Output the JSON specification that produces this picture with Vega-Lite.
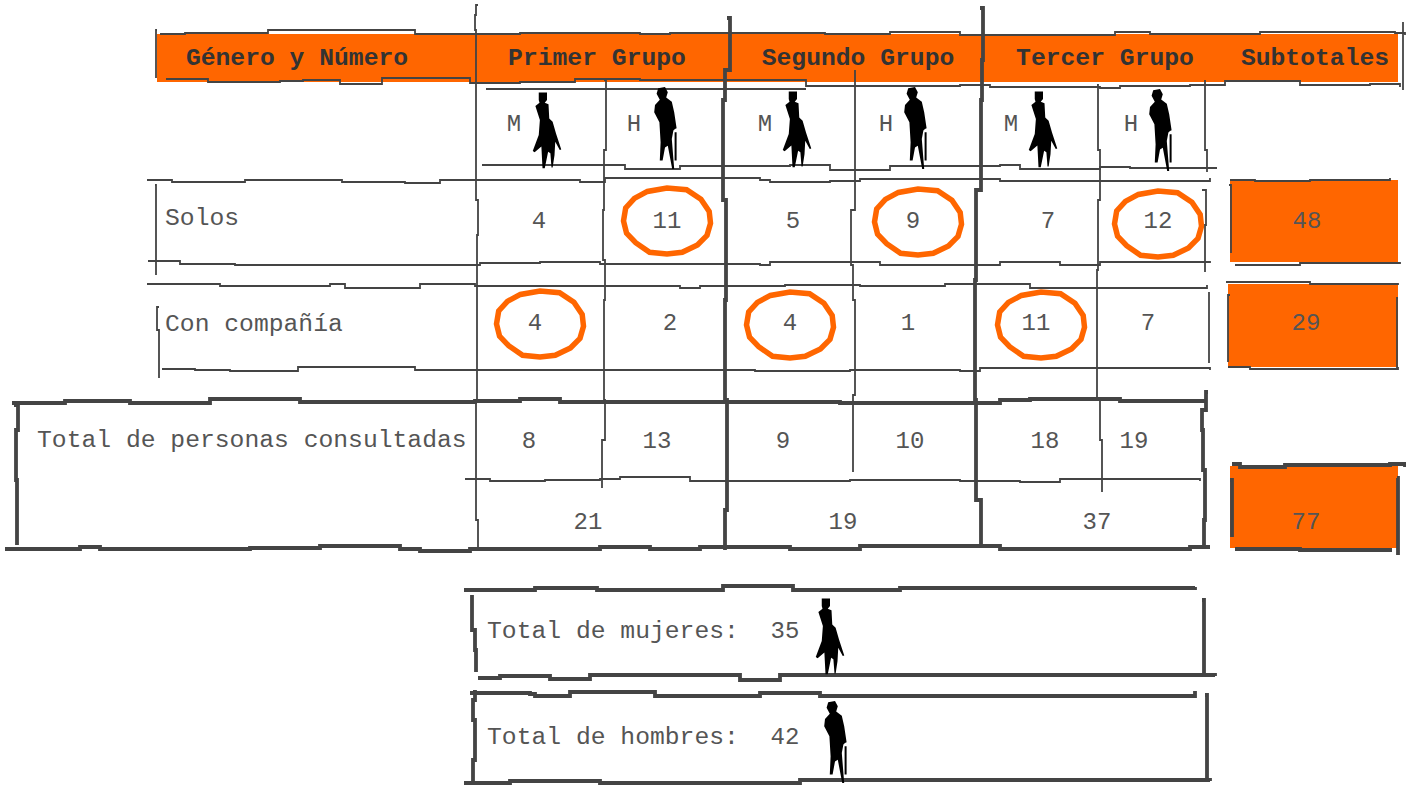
{"$schema":"https://vega.github.io/schema/vega-lite/v6.json","width":1406,"height":785,"padding":0,"autosize":{"type":"none"},"background":"white","view":{"stroke":null},
"datasets":{
"bloques":[{"col":157,"col2":1398,"fila":34,"fila2":82},{"col":1230,"col2":1398,"fila":180,"fila2":262},{"col":1228,"col2":1398,"fila":284,"fila2":367},{"col":1230,"col2":1398,"fila":466,"fila2":548}],
"marcados":[{"col":667,"fila":221,"dato":"11"},{"col":918,"fila":222,"dato":"9"},{"col":1158,"fila":224,"dato":"12"},{"col":540,"fila":324,"dato":"4"},{"col":790,"fila":325,"dato":"4"},{"col":1041,"fila":325,"dato":"11"}],
"mujeres":[{"col":547,"fila":130},{"col":797,"fila":129},{"col":1043,"fila":129},{"col":830,"fila":636}],
"hombres":[{"col":665,"fila":129},{"col":915,"fila":129},{"col":1160,"fila":131},{"col":835,"fila":743}],
"centrados":[{"col":539,"fila":221,"t":"4"},{"col":667,"fila":221,"t":"11"},{"col":793,"fila":221,"t":"5"},{"col":913,"fila":221,"t":"9"},{"col":1048,"fila":221,"t":"7"},{"col":1158,"fila":221,"t":"12"},{"col":1307,"fila":221,"t":"48"},{"col":535,"fila":323,"t":"4"},{"col":670,"fila":323,"t":"2"},{"col":790,"fila":323,"t":"4"},{"col":908,"fila":323,"t":"1"},{"col":1036,"fila":323,"t":"11"},{"col":1148,"fila":323,"t":"7"},{"col":1306,"fila":323,"t":"29"},{"col":529,"fila":441,"t":"8"},{"col":657,"fila":441,"t":"13"},{"col":783,"fila":441,"t":"9"},{"col":910,"fila":441,"t":"10"},{"col":1045,"fila":441,"t":"18"},{"col":1134,"fila":441,"t":"19"},{"col":588,"fila":522,"t":"21"},{"col":843,"fila":522,"t":"19"},{"col":1097,"fila":522,"t":"37"},{"col":1306,"fila":522,"t":"77"},{"col":785,"fila":631,"t":"35"},{"col":785,"fila":737,"t":"42"},{"col":514,"fila":124,"t":"M"},{"col":634,"fila":124,"t":"H"},{"col":765,"fila":124,"t":"M"},{"col":886,"fila":124,"t":"H"},{"col":1011,"fila":124,"t":"M"},{"col":1131,"fila":124,"t":"H"}],
"etiquetas":[{"col":165,"fila":218,"t":"Solos"},{"col":165,"fila":324,"t":"Con compañía"},{"col":37,"fila":440,"t":"Total de personas consultadas"},{"col":487,"fila":631,"t":"Total de mujeres:"},{"col":487,"fila":737,"t":"Total de hombres:"}],
"encabezados":[{"col":297,"fila":58,"t":"Género y Número"},{"col":597,"fila":58,"t":"Primer Grupo"},{"col":858,"fila":58,"t":"Segundo Grupo"},{"col":1105,"fila":58,"t":"Tercer Grupo"},{"col":1315,"fila":58,"t":"Subtotales"}],
"finas":[
{"l":"a","col":160,"fila":34},{"l":"a","col":185,"fila":33},{"l":"a","col":268,"fila":30},{"l":"a","col":415,"fila":34},{"l":"a","col":520,"fila":33},{"l":"a","col":640,"fila":34},{"l":"a","col":670,"fila":33},{"l":"a","col":825,"fila":34},{"l":"a","col":890,"fila":32},{"l":"a","col":960,"fila":35},{"l":"a","col":1115,"fila":32},{"l":"a","col":1150,"fila":34},{"l":"a","col":1260,"fila":32},{"l":"a","col":1395,"fila":33},{"l":"a","col":1405,"fila":35},
{"l":"b","col":166,"fila":79},{"l":"b","col":196,"fila":79},{"l":"b","col":208,"fila":82},{"l":"b","col":280,"fila":81},{"l":"b","col":303,"fila":80},{"l":"b","col":340,"fila":84},{"l":"b","col":366,"fila":84},{"l":"b","col":382,"fila":78},{"l":"b","col":445,"fila":78},{"l":"b","col":470,"fila":83},{"l":"b","col":520,"fila":82},{"l":"b","col":575,"fila":79},{"l":"b","col":640,"fila":80},{"l":"b","col":780,"fila":80},{"l":"b","col":806,"fila":86},{"l":"b","col":960,"fila":85},{"l":"b","col":990,"fila":87},{"l":"b","col":1100,"fila":88},{"l":"b","col":1120,"fila":86},{"l":"b","col":1190,"fila":85},{"l":"b","col":1225,"fila":81},{"l":"b","col":1290,"fila":81},{"l":"b","col":1300,"fila":85},{"l":"b","col":1370,"fila":84},{"l":"b","col":1400,"fila":87},
{"l":"c","col":486,"fila":89},{"l":"c","col":806,"fila":89},
{"l":"d","col":482,"fila":165},{"l":"d","col":605,"fila":165},{"l":"d","col":625,"fila":169},{"l":"d","col":660,"fila":169},{"l":"d","col":680,"fila":166},{"l":"d","col":790,"fila":165},{"l":"d","col":830,"fila":170},{"l":"d","col":850,"fila":170},{"l":"d","col":890,"fila":166},{"l":"d","col":1000,"fila":165},{"l":"d","col":1020,"fila":169},{"l":"d","col":1100,"fila":167},{"l":"d","col":1130,"fila":168},{"l":"d","col":1217,"fila":168},
{"l":"e","col":147,"fila":180},{"l":"e","col":172,"fila":182},{"l":"e","col":240,"fila":182},{"l":"e","col":245,"fila":180},{"l":"e","col":302,"fila":180},{"l":"e","col":342,"fila":182},{"l":"e","col":405,"fila":183},{"l":"e","col":440,"fila":180},{"l":"e","col":540,"fila":180},{"l":"e","col":580,"fila":182},{"l":"e","col":605,"fila":178},{"l":"e","col":760,"fila":180},{"l":"e","col":770,"fila":182},{"l":"e","col":830,"fila":181},{"l":"e","col":860,"fila":179},{"l":"e","col":1000,"fila":181},{"l":"e","col":1100,"fila":181},{"l":"e","col":1210,"fila":178},
{"l":"f","col":148,"fila":261},{"l":"f","col":180,"fila":264},{"l":"f","col":235,"fila":265},{"l":"f","col":380,"fila":265},{"l":"f","col":480,"fila":263},{"l":"f","col":540,"fila":262},{"l":"f","col":600,"fila":264},{"l":"f","col":760,"fila":265},{"l":"f","col":770,"fila":262},{"l":"f","col":880,"fila":265},{"l":"f","col":1000,"fila":262},{"l":"f","col":1060,"fila":265},{"l":"f","col":1100,"fila":262},{"l":"f","col":1210,"fila":261},
{"l":"g","col":147,"fila":284},{"l":"g","col":185,"fila":284},{"l":"g","col":220,"fila":286},{"l":"g","col":330,"fila":284},{"l":"g","col":345,"fila":288},{"l":"g","col":400,"fila":288},{"l":"g","col":420,"fila":284},{"l":"g","col":475,"fila":286},{"l":"g","col":680,"fila":288},{"l":"g","col":700,"fila":286},{"l":"g","col":785,"fila":285},{"l":"g","col":860,"fila":286},{"l":"g","col":945,"fila":284},{"l":"g","col":1030,"fila":288},{"l":"g","col":1207,"fila":285},
{"l":"h","col":162,"fila":369},{"l":"h","col":195,"fila":370},{"l":"h","col":230,"fila":371},{"l":"h","col":280,"fila":371},{"l":"h","col":298,"fila":367},{"l":"h","col":390,"fila":367},{"l":"h","col":415,"fila":370},{"l":"h","col":755,"fila":371},{"l":"h","col":850,"fila":370},{"l":"h","col":960,"fila":371},{"l":"h","col":980,"fila":368},{"l":"h","col":1190,"fila":368},{"l":"h","col":1210,"fila":370},
{"l":"i","col":465,"fila":479},{"l":"i","col":490,"fila":481},{"l":"i","col":545,"fila":480},{"l":"i","col":600,"fila":479},{"l":"i","col":620,"fila":477},{"l":"i","col":660,"fila":477},{"l":"i","col":690,"fila":481},{"l":"i","col":850,"fila":480},{"l":"i","col":960,"fila":481},{"l":"i","col":1020,"fila":482},{"l":"i","col":1060,"fila":479},{"l":"i","col":1200,"fila":481},
{"l":"j","col":478,"fila":5},{"l":"j","col":476,"fila":15},{"l":"j","col":475,"fila":30},{"l":"j","col":476,"fila":90},{"l":"j","col":476,"fila":200},{"l":"j","col":478,"fila":235},{"l":"j","col":477,"fila":400},{"l":"j","col":476,"fila":520},{"l":"j","col":478,"fila":548},
{"l":"k","col":604,"fila":80},{"l":"k","col":606,"fila":150},{"l":"k","col":604,"fila":210},{"l":"k","col":603,"fila":260},{"l":"k","col":605,"fila":300},{"l":"k","col":604,"fila":400},{"l":"k","col":605,"fila":440},{"l":"k","col":602,"fila":488},
{"l":"m","col":855,"fila":70},{"l":"m","col":855,"fila":150},{"l":"m","col":855,"fila":210},{"l":"m","col":851,"fila":265},{"l":"m","col":853,"fila":300},{"l":"m","col":855,"fila":395},{"l":"m","col":853,"fila":440},{"l":"m","col":853,"fila":472},
{"l":"n","col":1097,"fila":85},{"l":"n","col":1098,"fila":150},{"l":"n","col":1100,"fila":200},{"l":"n","col":1098,"fila":270},{"l":"n","col":1097,"fila":400},{"l":"n","col":1100,"fila":440},{"l":"n","col":1102,"fila":492},
{"l":"o","col":1205,"fila":80},{"l":"o","col":1205,"fila":150},{"l":"o","col":1207,"fila":172},
{"l":"p","col":1202,"fila":190},{"l":"p","col":1206,"fila":225},{"l":"p","col":1205,"fila":272},
{"l":"q","col":1209,"fila":292},{"l":"q","col":1209,"fila":363},
{"l":"r","col":157,"fila":30},{"l":"r","col":156,"fila":78},
{"l":"s","col":1403,"fila":22},{"l":"s","col":1403,"fila":90},
{"l":"t","col":155,"fila":185},{"l":"t","col":156,"fila":275},
{"l":"u","col":159,"fila":307},{"l":"u","col":157,"fila":330},{"l":"u","col":159,"fila":378},
{"l":"v","col":1230,"fila":180},{"l":"v","col":1255,"fila":181},{"l":"v","col":1310,"fila":180},{"l":"v","col":1390,"fila":178},
{"l":"w","col":1235,"fila":265},{"l":"w","col":1300,"fila":263},{"l":"w","col":1400,"fila":264},
{"l":"y","col":1229,"fila":185},{"l":"y","col":1231,"fila":253},
{"l":"z","col":1226,"fila":282},{"l":"z","col":1310,"fila":284},{"l":"z","col":1398,"fila":285},
{"l":"aa","col":1228,"fila":367},{"l":"aa","col":1250,"fila":369},{"l":"aa","col":1370,"fila":369},{"l":"aa","col":1398,"fila":367},
{"l":"ab","col":1230,"fila":295},{"l":"ab","col":1228,"fila":362},
{"l":"ac","col":1398,"fila":298},{"l":"ac","col":1397,"fila":370}
],
"gruesas":[
{"l":"a","col":727,"fila":18},{"l":"a","col":730,"fila":70},{"l":"a","col":725,"fila":100},{"l":"a","col":723,"fila":200},{"l":"a","col":726,"fila":300},{"l":"a","col":725,"fila":400},{"l":"a","col":727,"fila":480},{"l":"a","col":727,"fila":510},{"l":"a","col":725,"fila":550},
{"l":"b","col":980,"fila":8},{"l":"b","col":983,"fila":60},{"l":"b","col":982,"fila":100},{"l":"b","col":981,"fila":190},{"l":"b","col":976,"fila":280},{"l":"b","col":975,"fila":400},{"l":"b","col":976,"fila":500},{"l":"b","col":981,"fila":545},
{"l":"c","col":12,"fila":403},{"l":"c","col":60,"fila":403},{"l":"c","col":65,"fila":401},{"l":"c","col":125,"fila":401},{"l":"c","col":130,"fila":403},{"l":"c","col":190,"fila":403},{"l":"c","col":210,"fila":399},{"l":"c","col":290,"fila":399},{"l":"c","col":300,"fila":402},{"l":"c","col":475,"fila":401},{"l":"c","col":520,"fila":399},{"l":"c","col":560,"fila":402},{"l":"c","col":840,"fila":403},{"l":"c","col":910,"fila":403},{"l":"c","col":1000,"fila":400},{"l":"c","col":1030,"fila":399},{"l":"c","col":1110,"fila":399},{"l":"c","col":1120,"fila":401},{"l":"c","col":1205,"fila":399},
{"l":"d","col":5,"fila":549},{"l":"d","col":80,"fila":547},{"l":"d","col":100,"fila":549},{"l":"d","col":250,"fila":548},{"l":"d","col":320,"fila":546},{"l":"d","col":400,"fila":549},{"l":"d","col":420,"fila":551},{"l":"d","col":470,"fila":549},{"l":"d","col":600,"fila":547},{"l":"d","col":650,"fila":549},{"l":"d","col":700,"fila":547},{"l":"d","col":790,"fila":549},{"l":"d","col":860,"fila":546},{"l":"d","col":1000,"fila":549},{"l":"d","col":1150,"fila":549},{"l":"d","col":1190,"fila":547},{"l":"d","col":1210,"fila":547},
{"l":"e","col":464,"fila":590},{"l":"e","col":535,"fila":588},{"l":"e","col":597,"fila":590},{"l":"e","col":703,"fila":590},{"l":"e","col":723,"fila":586},{"l":"e","col":772,"fila":586},{"l":"e","col":793,"fila":590},{"l":"e","col":900,"fila":588},{"l":"e","col":1195,"fila":587},
{"l":"f","col":478,"fila":678},{"l":"f","col":500,"fila":676},{"l":"f","col":550,"fila":679},{"l":"f","col":590,"fila":675},{"l":"f","col":700,"fila":675},{"l":"f","col":740,"fila":680},{"l":"f","col":780,"fila":675},{"l":"f","col":1215,"fila":676},
{"l":"g","col":470,"fila":693},{"l":"g","col":530,"fila":694},{"l":"g","col":535,"fila":696},{"l":"g","col":570,"fila":692},{"l":"g","col":640,"fila":692},{"l":"g","col":655,"fila":696},{"l":"g","col":740,"fila":696},{"l":"g","col":760,"fila":693},{"l":"g","col":820,"fila":696},{"l":"g","col":1195,"fila":691},
{"l":"h","col":464,"fila":783},{"l":"h","col":510,"fila":781},{"l":"h","col":600,"fila":783},{"l":"h","col":740,"fila":783},{"l":"h","col":800,"fila":780},{"l":"h","col":1210,"fila":781},
{"l":"i","col":472,"fila":595},{"l":"i","col":472,"fila":630},{"l":"i","col":475,"fila":650},{"l":"i","col":476,"fila":672},
{"l":"j","col":1202,"fila":600},{"l":"j","col":1204,"fila":677},
{"l":"k","col":473,"fila":692},{"l":"k","col":475,"fila":700},{"l":"k","col":473,"fila":720},{"l":"k","col":475,"fila":760},{"l":"k","col":473,"fila":782},
{"l":"m","col":1205,"fila":695},{"l":"m","col":1207,"fila":780},
{"l":"n","col":1208,"fila":392},{"l":"n","col":1206,"fila":410},{"l":"n","col":1202,"fila":430},{"l":"n","col":1203,"fila":470},{"l":"n","col":1205,"fila":520},{"l":"n","col":1204,"fila":545},
{"l":"o","col":14,"fila":405},{"l":"o","col":18,"fila":430},{"l":"o","col":16,"fila":480},{"l":"o","col":17,"fila":545},
{"l":"p","col":1232,"fila":464},{"l":"p","col":1240,"fila":467},{"l":"p","col":1285,"fila":465},{"l":"p","col":1390,"fila":464},{"l":"p","col":1405,"fila":467},
{"l":"q","col":1235,"fila":549},{"l":"q","col":1300,"fila":550},{"l":"q","col":1392,"fila":550},
{"l":"r","col":1230,"fila":480},{"l":"r","col":1232,"fila":537},
{"l":"s","col":1397,"fila":478},{"l":"s","col":1398,"fila":555}
]},
"encoding":{
"x":{"field":"col","type":"quantitative","axis":null,"scale":{"domain":[0,1406],"nice":false,"zero":false}},
"y":{"field":"fila","type":"quantitative","axis":null,"scale":{"domain":[785,0],"nice":false,"zero":false}}},
"layer":[
{"data":{"name":"bloques"},"mark":{"type":"rect","color":"#ff6600"},"encoding":{"x2":{"field":"col2"},"y2":{"field":"fila2"}}},
{"data":{"name":"marcados"},"mark":{"type":"point","filled":false,"stroke":"#ff6600","strokeWidth":5.5,"opacity":1,"size":7569,"shape":"M-1 0 L-.95 -.3 L-.75 -.52 L-.45 -.68 L0 -.76 L.45 -.72 L.78 -.5 L.97 -.22 L1 .05 L.92 .33 L.7 .55 L.35 .72 L0 .76 L-.4 .72 L-.72 .5 L-.93 .28 Z"}},
{"data":{"name":"finas"},"mark":{"type":"line","interpolate":"step-after","stroke":"#444444","strokeWidth":1.8},"encoding":{"detail":{"field":"l"},"order":{"value":null}}},
{"data":{"name":"gruesas"},"mark":{"type":"line","interpolate":"step-after","stroke":"#444444","strokeWidth":3.8},"encoding":{"detail":{"field":"l"},"order":{"value":null}}},
{"data":{"name":"mujeres"},"mark":{"type":"point","filled":true,"fill":"#000000","opacity":1,"strokeWidth":0,"size":5625,"shape":"M-.22 -1 L0 -1 L0 -.8 L-.06 -.73 L.04 -.69 L.06 -.31 L.15 -.22 L.24 .09 L.38 .52 L.34 .53 L.22 .31 L.2 .67 L.15 1 L.12 1 L.09 .62 L.03 .58 L-.06 1.02 L-.12 1.02 L-.15 .44 L-.33 .59 L-.38 .56 L-.22 .13 L-.19 -.27 L-.31 -.64 L-.2 -.73 L-.22 -.8 Z"}},
{"data":{"name":"hombres"},"mark":{"type":"point","filled":true,"fill":"#000000","opacity":1,"strokeWidth":0,"size":6400,"shape":"M-.17 -1.02 L0 -1.05 L.07 -.92 L.03 -.79 L.17 -.68 L.23 -.42 L.29 -.02 L.25 0 L.21 .04 L.17 .25 L.23 1 L.18 1 L.07 .42 L0 .46 L-.06 .79 L-.13 .79 L-.11 .33 L-.14 -.17 L-.27 -.42 L-.25 -.6 L-.13 -.73 L-.21 -.88 Z M.24 .08 L.29 .08 L.29 .79 L.24 .79 Z"}},
{"data":{"name":"centrados"},"mark":{"type":"text","font":"Liberation Mono","fontSize":24,"fill":"#555555","align":"center","baseline":"middle"},"encoding":{"text":{"field":"t"}}},
{"data":{"name":"etiquetas"},"mark":{"type":"text","font":"Liberation Mono","fontSize":24.7,"fill":"#555555","align":"left","baseline":"middle"},"encoding":{"text":{"field":"t"}}},
{"data":{"name":"encabezados"},"mark":{"type":"text","font":"Liberation Mono","fontWeight":"bold","fontSize":24.7,"fill":"#333333","align":"center","baseline":"middle"},"encoding":{"text":{"field":"t"}}}
]}
